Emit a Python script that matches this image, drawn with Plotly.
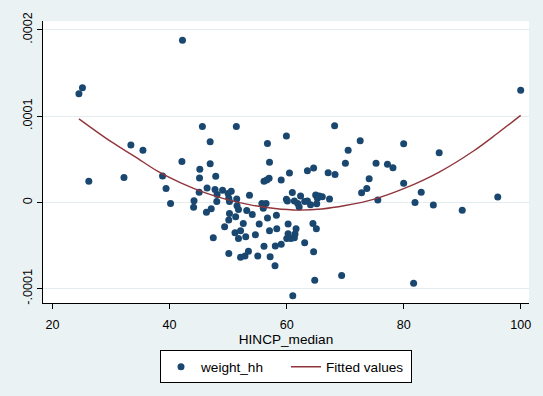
import plotly.graph_objects as go

# HINCP_median (x) and weight_hh (y, in units of 1e-5)
hincp_median = [
    24.5, 25.1, 42.2, 100.0, 45.6, 51.4, 68.2,
    26.19, 33.38, 35.44, 32.2, 42.10, 46.93, 38.79, 39.39, 40.16, 44.17,
    44.10, 45.16, 45.11, 45.05, 46.29, 46.93, 47.88, 46.40, 47.11, 47.76,
    48.11, 48.06, 47.46, 49.05, 50.0, 50.53, 50.11, 50.23, 51.47, 51.52,
    51.77, 50.23, 51.29, 50.11, 49.40, 51.17, 52.12, 51.77, 53.01, 52.59,
    53.18, 53.65, 54.13, 54.66, 55.31, 50.11, 52.12, 52.88, 53.47, 55.06,
    55.77, 56.48, 56.01, 56.13, 56.60, 57.0, 57.07, 56.72, 59.96, 56.72,
    57.07, 56.13, 57.18, 58.01, 58.25, 58.31, 58.06, 59.07, 59.07, 60.48,
    60.97, 59.96, 60.13, 61.32, 60.25, 60.25, 60.73, 60.02, 61.32, 61.61,
    61.43, 63.08, 64.61, 64.49, 65.08, 62.38, 61.90, 62.14, 63.08, 63.55,
    64.08, 63.55, 64.61, 64.96, 65.26, 65.14, 65.56, 66.09, 67.33, 67.09,
    68.27, 70.04, 70.51, 72.57, 72.81, 73.70, 74.10, 75.28, 75.58, 77.23,
    78.17, 80.0, 80.0, 81.94, 83.0, 85.07, 86.07, 90.01, 96.08,
    64.8, 69.4, 81.7, 61.05,
]
weight_hh_e5 = [
    12.6, 13.3, 18.8, 13.0, 8.8, 8.8, 8.9,
    2.47, 6.66, 6.05, 2.91, 4.75, 7.03, 3.07, 1.61, -0.11, 0.19,
    -0.56, 3.86, 2.85, 1.20, -1.12, 4.48, 3.03, 1.68, -0.71, 1.50,
    0.94, 0.11, -4.10, 1.42, 1.05, 1.31, 0.49, 0.11, 0.41, -0.37,
    -0.82, -1.27, -1.64, -2.02, -2.80, -3.51, -3.28, -4.18, -3.96, -2.42,
    -0.93, 0.83, -1.38, -3.73, -2.50, -5.90, -6.35, -6.20, -5.64, -6.20,
    -0.11, -0.11, -0.67, 2.47, 2.62, 2.80, 4.67, 6.84, 7.70, -1.79,
    -3.28, -5.08, -6.28, -7.32, -1.49, -3.03, -5.04, -4.85, 2.62, 3.41,
    1.17, 0.38, 0.16, 0.16, -2.50, -3.62, -4.18, -4.18, -4.10, -3.03,
    -3.65, -4.66, -5.72, -2.42, -3.03, 0.75, -0.11, -0.52, 0.11, 0.16,
    -0.26, 3.67, 4.00, 0.86, 0.49, -0.15, 0.75, 0.67, 0.41, 3.44,
    3.25, 4.56, 6.05, 7.17, 1.12, 1.61, 2.74, 4.56, 0.30, 4.42,
    4.04, 6.80, 2.24, 0.0, 1.20, -0.29, 5.76, -0.90, 0.64,
    -9.0, -8.45, -9.35, -10.8,
]

# Fitted values (quadratic fit line), y in units of 1e-5
fit_x = [24.5, 30, 34, 38, 42, 46, 50, 54, 58, 62, 66, 70, 75, 80, 86, 92, 96, 100]
fit_y_e5 = [9.7, 7.05, 5.35, 3.6, 2.25, 1.15, 0.3, -0.3, -0.7, -0.88, -0.75, -0.35,
            0.4, 1.6, 3.5, 6.0, 8.0, 10.1]

x_ticks = [20, 40, 60, 80, 100]
y_tick_vals = [-1e-4, 0, 1e-4, 2e-4]
y_tick_text = ["-.0001", "0", ".0001", ".0002"]

E5 = 1e-5
weight_hh = [v * E5 for v in weight_hh_e5]
fit_y = [v * E5 for v in fit_y_e5]

NAVY = "#1A476F"
MAROON = "#90353B"
BG = "#EAF2F3"
FONT = "Liberation Sans, Arial, sans-serif"

fig = go.Figure()
fig.add_trace(go.Scatter(
    x=hincp_median, y=weight_hh, mode="markers", name="weight_hh",
    marker=dict(color=NAVY, size=7, line=dict(width=0)),
))
fig.add_trace(go.Scatter(
    x=fit_x, y=fit_y, mode="lines", name="Fitted values",
    line=dict(color=MAROON, width=1.4, shape="spline"),
))

fig.update_layout(
    width=543, height=396,
    margin=dict(l=43, r=13, t=16, b=89),
    paper_bgcolor=BG, plot_bgcolor="white",
    font=dict(family=FONT, size=13.6, color="black"),
    showlegend=True,
    legend=dict(
        orientation="h", x=0.5, xanchor="center", y=-0.168, yanchor="top",
        bgcolor="white", bordercolor="black", borderwidth=1,
        font=dict(size=13.6), itemwidth=30,
        entrywidth=80, entrywidthmode="pixels",
    ),
    xaxis=dict(
        range=[18.36, 101.42], tickvals=x_ticks, ticks="outside", ticklen=5,
        tickcolor="black", showline=True, linecolor="black", linewidth=1,
        showgrid=False, zeroline=False, tickfont=dict(size=12.6),
        ticklabelstandoff=5,
        title=dict(text="HINCP_median", font=dict(size=13.6), standoff=3),
    ),
    yaxis=dict(
        range=[-11.65e-5, 21.04e-5], tickvals=y_tick_vals, ticktext=y_tick_text,
        tickangle=-90, ticks="outside", ticklen=5, tickcolor="black",
        showline=True, linecolor="black", linewidth=1,
        showgrid=True, gridcolor="#E3ECEF", gridwidth=1, zeroline=False,
        tickfont=dict(size=12.6),
    ),
)

fig.write_html("out.html")
